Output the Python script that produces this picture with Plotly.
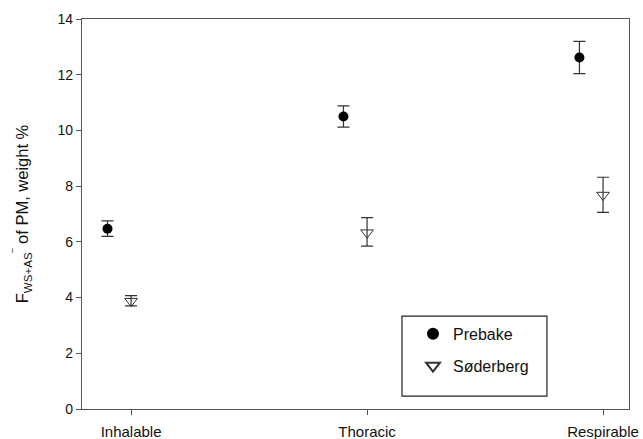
import plotly.graph_objects as go

categories = ["Inhalable", "Thoracic", "Respirable"]
prebake = [6.47, 10.5, 12.62]
prebake_lo = [6.2, 10.12, 12.04]
prebake_hi = [6.75, 10.88, 13.2]
soderberg = [3.87, 6.33, 7.68]
soderberg_lo = [3.7, 5.85, 7.06]
soderberg_hi = [4.07, 6.87, 8.32]

xpos = [1, 2, 3]
offset = -0.1

fig = go.Figure()
fig.add_trace(go.Scatter(
    x=[p + offset for p in xpos], y=prebake, mode="markers", name="Prebake",
    legendgroup="a",
    marker=dict(symbol="circle", size=10, color="black"),
    error_y=dict(type="data", symmetric=False,
                 array=[h - v for h, v in zip(prebake_hi, prebake)],
                 arrayminus=[v - l for v, l in zip(prebake, prebake_lo)],
                 color="#333", thickness=1.2, width=6),
))
fig.add_trace(go.Scatter(
    x=xpos, y=soderberg, mode="markers", name="Søderberg",
    legendgroup="b",
    marker=dict(symbol="triangle-down-open", size=11, color="#333", line=dict(width=1)),
    error_y=dict(type="data", symmetric=False,
                 array=[h - v for h, v in zip(soderberg_hi, soderberg)],
                 arrayminus=[v - l for v, l in zip(soderberg, soderberg_lo)],
                 color="#333", thickness=1.2, width=6),
))

axis_common = dict(showline=True, linecolor="#555", linewidth=1.3, mirror=True,
                   ticks="outside", ticklen=5, tickcolor="#555", showgrid=False,
                   zeroline=False, automargin=False)

fig.update_layout(
    width=643, height=439,
    margin=dict(l=82, r=14, t=19, b=30),
    paper_bgcolor="white", plot_bgcolor="white",
    font=dict(family="Liberation Sans, Arial", color="#111"),
    xaxis=dict(range=[0.792, 3.11], tickmode="array", tickvals=xpos, ticktext=categories,
               tickfont=dict(size=15, color="#111"), ticklabelstandoff=4, **axis_common),
    yaxis=dict(range=[0, 14], tickmode="array", tickvals=[0, 2, 4, 6, 8, 10, 12, 14],
               tickfont=dict(size=14, color="#111"),
               title=dict(text="F<sub>WS+AS</sub><sup>‾</sup> of PM, weight %", font=dict(size=16.5), standoff=24),
               **axis_common),
    showlegend=True,
    legend=dict(x=(413 - 82) / 547, y=0.236, xanchor="left", yanchor="top",
                borderwidth=0, bgcolor="rgba(0,0,0,0)",
                font=dict(size=16), itemsizing="constant",
                tracegroupgap=8),
    shapes=[dict(type="rect", xref="paper", yref="paper",
                 x0=0.585, x1=0.850, y0=0.033, y1=0.238,
                 line=dict(color="#222", width=1.2), fillcolor="white", layer="below")],
)

fig.write_html("out.html")
